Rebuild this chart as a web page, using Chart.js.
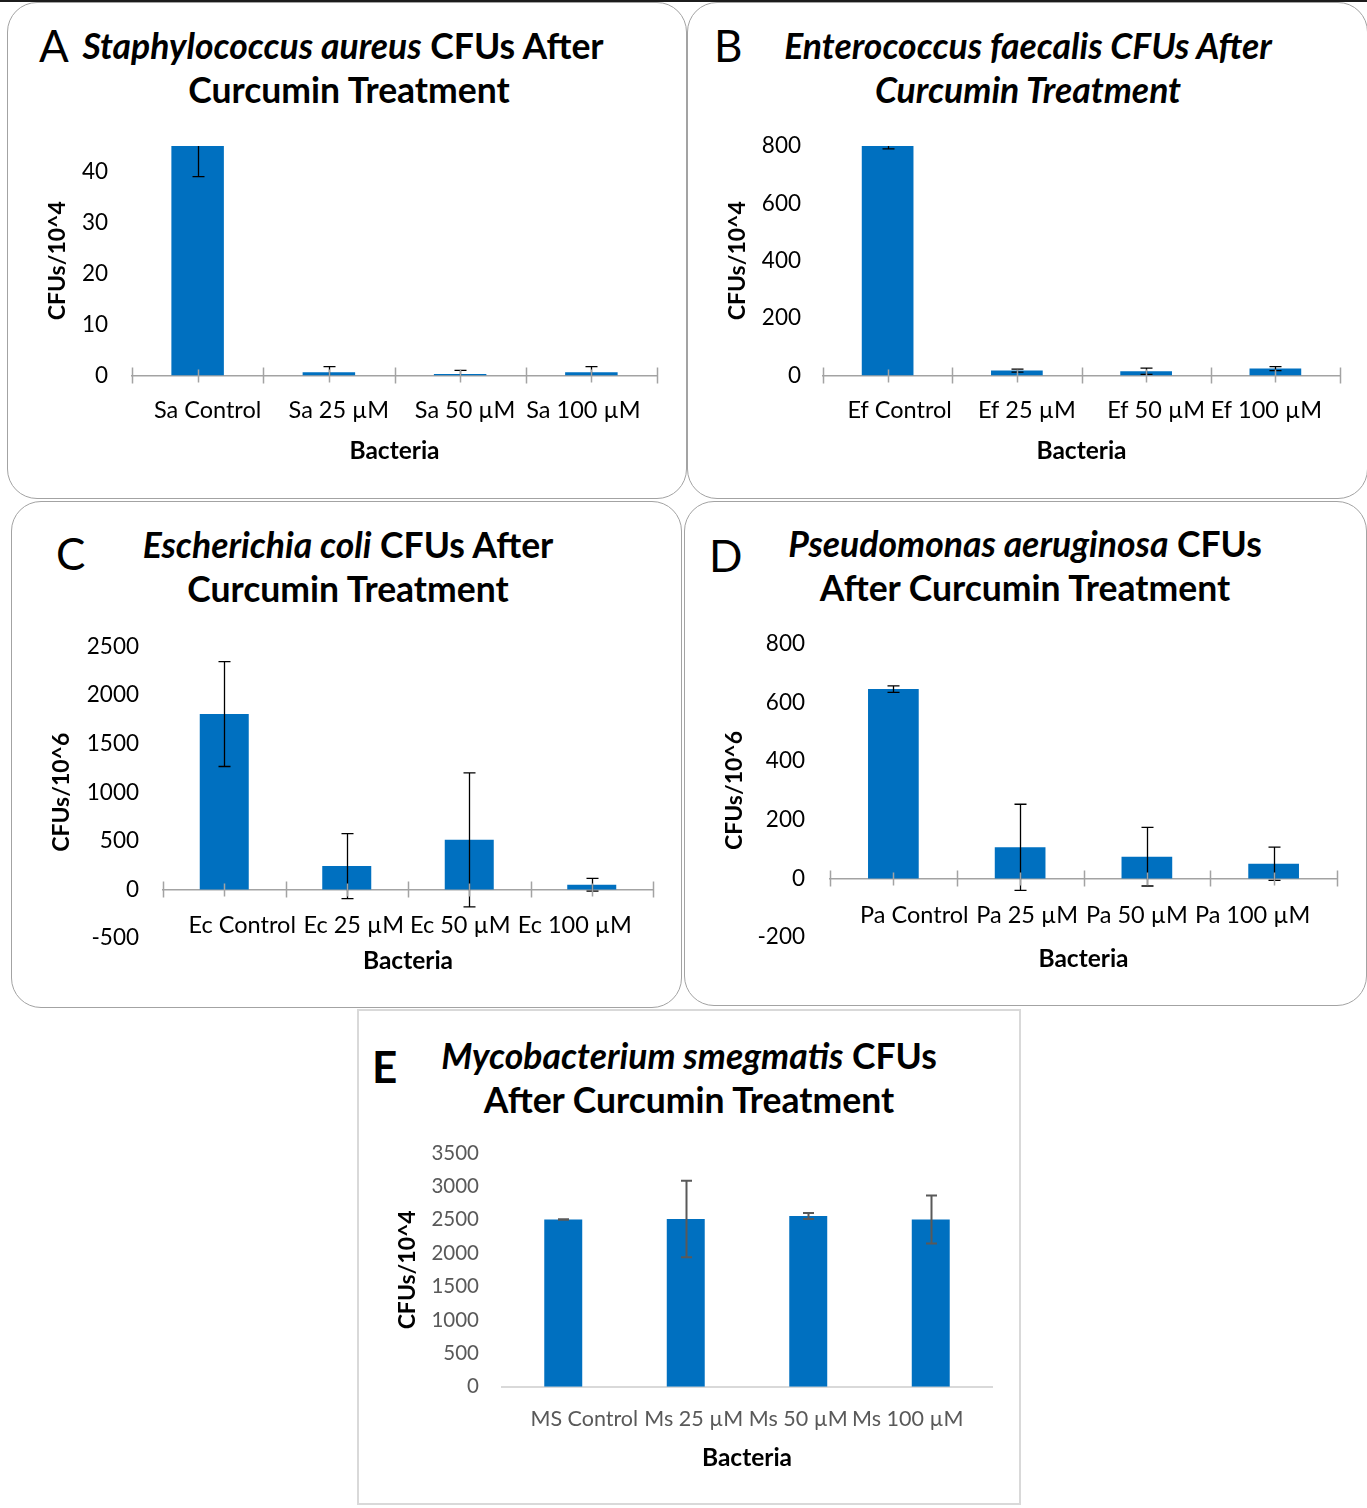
<!DOCTYPE html>
<html>
<head>
<meta charset="utf-8">
<title>CFUs After Curcumin Treatment</title>
<script src="https://cdn.jsdelivr.net/npm/chart.js@4.4.1/dist/chart.umd.min.js"></script>
<style>
  html, body { margin: 0; padding: 0; background: #fff; }
  body { position: relative; width: 1367px; height: 1508px; overflow: hidden; font-family: Lato, "Open Sans", sans-serif; }
  .topline { position: absolute; left: 0; top: 0; width: 1367px; height: 2px; background: #1c1c1c; }
  .panel { position: absolute; box-sizing: border-box; border: 1px solid #a3a3a3; border-radius: 30px; background: #fff; }
  .panel.square { border: 2px solid #d9d9d9; border-radius: 0; }
  canvas { position: absolute; }
  .title { position: absolute; font-weight: 700; font-size: 35.5px; line-height: 44px; text-align: center; white-space: nowrap; color: #000; transform: translateX(-50%); }
  .title .nudge { position: relative; }
  .letter { position: absolute; font-size: 44px; line-height: 44px; color: #000; font-weight: 400; }
</style>
</head>
<body>
<div class="topline"></div>
<div class="panel" style="left:7px;top:2px;width:680px;height:497px;"></div>
<div class="panel" style="left:687px;top:2px;width:681px;height:497px;"></div>
<div class="panel" style="left:11px;top:501px;width:671px;height:507px;"></div>
<div class="panel" style="left:684px;top:501px;width:683px;height:505px;"></div>
<div class="panel square" style="left:357px;top:1009px;width:664px;height:496px;"></div>

<div class="letter" style="left:39px;top:23px;">A</div>
<div class="letter" style="left:714px;top:23px;">B</div>
<div class="letter" style="left:56px;top:531px;">C</div>
<div class="letter" style="left:709px;top:533px;">D</div>
<div class="letter" style="left:372px;top:1044px;font-weight:700;">E</div>

<div class="title" style="left:343px;top:24px;"><i>Staphylococcus aureus</i> CFUs After<br><span class="nudge" style="left:6px;">Curcumin Treatment</span></div>
<div class="title" style="left:1028px;top:24px;"><i>Enterococcus faecalis CFUs After<br>Curcumin Treatment</i></div>
<div class="title" style="left:348px;top:523px;"><i>Escherichia coli</i> CFUs After<br>Curcumin Treatment</div>
<div class="title" style="left:1025px;top:522px;"><i>Pseudomonas aeruginosa</i> CFUs<br>After Curcumin Treatment</div>
<div class="title" style="left:689px;top:1034px;"><i>Mycobacterium smegmatis</i> CFUs<br>After Curcumin Treatment</div>

<script>
// ---- data ----
const labelsSa = ['Sa Control', 'Sa 25 µM', 'Sa 50 µM', 'Sa 100 µM'];
const cfuSa = [45, 0.65, 0.3, 0.65];
const errSa = [6, 1.1, 0.7, 1.1];

const labelsEf = ['Ef Control', 'Ef 25 µM', 'Ef 50 µM', 'Ef 100 µM'];
const cfuEf = [800, 17, 15, 24];
const errEf = [10, 5, 11, 7];

const labelsEc = ['Ec Control', 'Ec 25 µM', 'Ec 50 µM', 'Ec 100 µM'];
const cfuEc = [1805, 240, 510, 48];
const errEc = [540, 335, 690, 65];

const labelsPa = ['Pa Control', 'Pa 25 µM', 'Pa 50 µM', 'Pa 100 µM'];
const cfuPa = [646, 106, 74, 50];
const errPa = [11, 147, 100, 57];

const labelsMs = ['MS Control', 'Ms 25 µM', 'Ms 50 µM', 'Ms 100 µM'];
const cfuMs = [2503, 2513, 2558, 2503];
const errMs = [3, 573, 45, 360];

const axisSa = { min: 0, max: 45, step: 10 };
const axisEf = { min: 0, max: 800, step: 200 };
const axisEc = { min: -500, max: 2500, step: 500 };
const axisPa = { min: -200, max: 800, step: 200 };
const axisMs = { min: 0, max: 3500, step: 500 };

const xTitle = 'Bacteria';
const yTitle4 = 'CFUs/10^4';
const yTitle6 = 'CFUs/10^6';

// ---- plugins ----
// Vertical error bars (mean ± error), clipped to the plot area
const errorBars = {
  id: 'errorBars',
  afterDatasetsDraw(chart, args, opts) {
    const ds = chart.data.datasets[0];
    const xs = chart.scales.x, ys = chart.scales.y, a = chart.chartArea, ctx = chart.ctx;
    ctx.save();
    ctx.beginPath();
    ctx.rect(a.left, a.top, a.right - a.left, a.bottom - a.top);
    ctx.clip();
    ctx.strokeStyle = opts.color;
    ctx.lineWidth = opts.width;
    ds.data.forEach((v, i) => {
      const e = ds.errors[i];
      const px = Math.round(xs.getPixelForValue(i)) + 0.5;
      const hi = ys.getPixelForValue(v + e), lo = ys.getPixelForValue(v - e);
      const c = opts.cap / 2;
      ctx.beginPath();
      ctx.moveTo(px, hi); ctx.lineTo(px, lo);
      ctx.moveTo(px - c, hi); ctx.lineTo(px + c, hi);
      ctx.moveTo(px - c, lo); ctx.lineTo(px + c, lo);
      ctx.stroke();
    });
    ctx.restore();
  }
};

// Cross tick marks on the category axis: long ones between categories, short ones at centres
const crossTicks = {
  id: 'crossTicks',
  afterDatasetsDraw(chart, args, opts) {
    if (!opts.show) return;
    const xs = chart.scales.x, ys = chart.scales.y, ctx = chart.ctx;
    const y0 = ys.getPixelForValue(0);
    const n = chart.data.labels.length;
    ctx.save();
    ctx.strokeStyle = opts.color;
    ctx.lineWidth = opts.width;
    ctx.beginPath();
    for (let i = 0; i <= n; i++) {
      const px = Math.round(xs.getPixelForValue(i - 0.5)) + 0.5;
      ctx.moveTo(px, y0 - 8); ctx.lineTo(px, y0 + 8);
    }
    for (let i = 0; i < n; i++) {
      const px = Math.round(xs.getPixelForValue(i)) + 0.5;
      ctx.moveTo(px, y0 - 6); ctx.lineTo(px, y0 + 7);
    }
    ctx.stroke();
    ctx.restore();
  }
};

// Category labels packed side by side: shift each label horizontally by a small amount
function labelPacking(shifts) {
  return {
    id: 'labelPacking',
    beforeDraw(chart) {
      const items = chart.scales.x.getLabelItems(chart.chartArea);
      items.forEach((it, i) => {
        if (it.packed) return;
        it.options.translation[0] += shifts[i] || 0;
        it.packed = true;
      });
    }
  };
}

// ---- chart builder ----
const FONT = 'Lato, "Open Sans", sans-serif';

function buildChart(spec) {
  const P = spec.panel, A = spec.area;
  const axisH = 100;       // height of the category axis box (labels + title)
  const below = 110;       // free space under the plot area
  const relBottom = A.b - P.y;
  const canvasH = Math.ceil(relBottom + below);
  const cv = document.createElement('canvas');
  cv.width = P.w; cv.height = canvasH;
  cv.style.left = P.x + 'px'; cv.style.top = P.y + 'px';
  cv.style.width = P.w + 'px'; cv.style.height = canvasH + 'px';
  document.body.appendChild(cv);

  const ax = spec.axis;
  const zeroY = A.b - (0 - ax.min) / (ax.max - ax.min) * (A.b - A.t);
  const tickLH = spec.xTickSize * 1.2;
  const xTitleLH = spec.xTitleSize * 1.2, yTitleLH = spec.yTitleSize * 1.2;

  return new Chart(cv, {
    type: 'bar',
    data: {
      labels: spec.labels,
      datasets: [{
        data: spec.values,
        errors: spec.errors,
        backgroundColor: '#0070C0',
        borderWidth: 0,
        barPercentage: spec.barPct,
        categoryPercentage: 1
      }]
    },
    options: {
      responsive: false,
      animation: false,
      devicePixelRatio: 1,
      layout: { padding: { left: 0, top: A.t - P.y, right: P.x + P.w - A.r, bottom: canvasH - relBottom } },
      plugins: {
        legend: { display: false },
        tooltip: { enabled: false },
        errorBars: { color: spec.errColor, width: spec.errWidth, cap: spec.cap },
        crossTicks: { show: spec.crossTicks, color: '#a3a3a3', width: 1.5 }
      },
      scales: {
        x: {
          position: { y: 0 },
          grid: { display: false, drawTicks: false },
          border: { display: true, color: spec.axisColor, width: spec.axisWidth },
          ticks: {
            autoSkip: false, maxRotation: 0, minRotation: 0,
            color: spec.tickColor,
            font: { family: FONT, size: spec.xTickSize },
            padding: spec.xLabY - zeroY - tickLH / 2
          },
          title: {
            display: true, text: xTitle, color: '#000',
            font: { family: FONT, size: spec.xTitleSize, weight: 'bold' },
            padding: { top: 0, bottom: zeroY + axisH - xTitleLH / 2 - spec.xTitleY }
          },
          afterFit(s) { s.height = axisH; }
        },
        y: {
          min: ax.min, max: ax.max,
          grid: { display: false, drawTicks: false },
          border: { display: false },
          ticks: {
            stepSize: ax.step, includeBounds: false,
            color: spec.tickColor,
            font: { family: FONT, size: spec.yTickSize },
            padding: A.l - spec.yLabR,
            callback: v => String(v)
          },
          title: {
            display: true, text: spec.yTitle, color: '#000',
            font: { family: FONT, size: spec.yTitleSize, weight: 'bold' },
            padding: { top: spec.yTitleX - P.x - yTitleLH / 2, bottom: 0 }
          },
          afterFit(s) { s.width = A.l - P.x; }
        }
      }
    },
    plugins: [errorBars, crossTicks, labelPacking(spec.labelShift)]
  });
}

const styleClassic = { tickColor: '#000', axisColor: '#a3a3a3', axisWidth: 1.5, errColor: '#000', errWidth: 1.3, cap: 12, crossTicks: true, barPct: 0.40, xTickSize: 23.5, yTickSize: 22.5, xTitleSize: 24.5, yTitleSize: 23 };
const styleModern = { tickColor: '#595959', axisColor: '#d9d9d9', axisWidth: 2, errColor: '#595959', errWidth: 2, cap: 11, crossTicks: false, barPct: 0.31, xTickSize: 21.5, yTickSize: 20.5, xTitleSize: 24.5, yTitleSize: 23 };

buildChart(Object.assign({}, styleClassic, {
  panel: { x: 7, y: 2, w: 680 }, area: { l: 132, r: 657, t: 146, b: 375.5 },
  yLabR: 108, yTitleX: 58, xLabY: 410, xTitleY: 451, labelShift: [10, 10, 5, -8],
  labels: labelsSa, values: cfuSa, errors: errSa, axis: axisSa, yTitle: yTitle4
}));
buildChart(Object.assign({}, styleClassic, {
  panel: { x: 687, y: 2, w: 680 }, area: { l: 823, r: 1340, t: 146, b: 375.5 },
  yLabR: 801, yTitleX: 738, xLabY: 410, xTitleY: 451, labelShift: [12, 10, 10, -9],
  labels: labelsEf, values: cfuEf, errors: errEf, axis: axisEf, yTitle: yTitle4
}));
buildChart(Object.assign({}, styleClassic, {
  panel: { x: 11, y: 501, w: 671 }, area: { l: 163, r: 653, t: 646.5, b: 938 },
  yLabR: 139, yTitleX: 62, xLabY: 925, xTitleY: 961, labelShift: [18, 7, -9, -17],
  labels: labelsEc, values: cfuEc, errors: errEc, axis: axisEc, yTitle: yTitle6
}));
buildChart(Object.assign({}, styleClassic, {
  panel: { x: 684, y: 501, w: 682 }, area: { l: 830, r: 1337, t: 644, b: 937 },
  yLabR: 805, yTitleX: 735, xLabY: 915, xTitleY: 959, labelShift: [21, 7, -10, -21],
  labels: labelsPa, values: cfuPa, errors: errPa, axis: axisPa, yTitle: yTitle6
}));
buildChart(Object.assign({}, styleModern, {
  panel: { x: 357, y: 1009, w: 664 }, area: { l: 502, r: 992, t: 1153, b: 1386.7 },
  yLabR: 479, yTitleX: 408, xLabY: 1419, xTitleY: 1458, labelShift: [21, 8, -10, -23],
  labels: labelsMs, values: cfuMs, errors: errMs, axis: axisMs, yTitle: yTitle4
}));
</script>
</body>
</html>
